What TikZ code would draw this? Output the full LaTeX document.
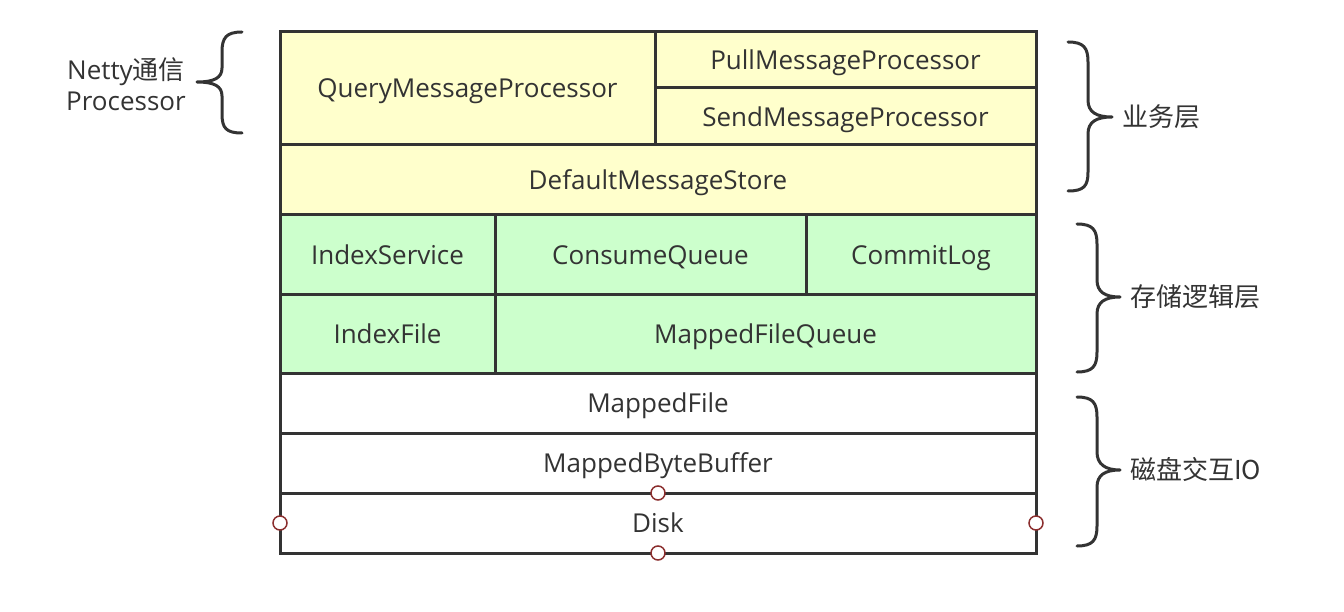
\documentclass[tikz,border=0pt]{standalone}
\usepackage{fontspec}
\setmainfont{Open Sans}
\newfontfamily\cjk{Noto Sans CJK SC}
\definecolor{ln}{HTML}{333333}
\definecolor{yel}{HTML}{FFFFCC}
\definecolor{grn}{HTML}{CCFFCC}
\definecolor{pin}{HTML}{8B2E2E}
\begin{document}
\begin{tikzpicture}[x=1pt,y=-1pt,
  cell/.style={draw=ln,line width=3pt,inner sep=0pt,outer sep=0pt,text=ln,
    text depth=0pt,font=\fontsize{26}{30}\selectfont},
  ycell/.style={cell,fill=yel},
  gcell/.style={cell,fill=grn},
  wcell/.style={cell,fill=white},
  brace/.style={draw=ln,line width=3pt,line cap=round,line join=round},
  side/.style={text=ln,font=\cjk\fontsize{26}{30}\selectfont,anchor=west,inner sep=0pt},
  pinc/.style={circle,draw=pin,fill=white,line width=1.5pt,minimum size=14pt,inner sep=0pt}]
\useasboundingbox (0,0) rectangle (1344,612);
% business layer
\node[ycell,minimum width=375,minimum height=113] (query) at (467.5,88.5) {QueryMessageProcessor};
\node[ycell,minimum width=381,minimum height=56] (pull) at (845.5,60) {PullMessageProcessor};
\node[ycell,minimum width=381,minimum height=57] (send) at (845.5,116.5) {SendMessageProcessor};
\node[ycell,minimum width=756,minimum height=70] (store) at (658,180) {DefaultMessageStore};
% storage logic layer
\node[gcell,minimum width=215,minimum height=80] (isvc) at (387.5,255) {IndexService};
\node[gcell,minimum width=311,minimum height=80] (cq) at (650.5,255) {ConsumeQueue};
\node[gcell,minimum width=230,minimum height=80] (cl) at (921,255) {CommitLog};
\node[gcell,minimum width=215,minimum height=78] (ifile) at (387.5,334) {IndexFile};
\node[gcell,minimum width=541,minimum height=78] (mfq) at (765.5,334) {MappedFileQueue};
% disk IO layer
\node[wcell,minimum width=756,minimum height=60] (mf) at (658,403) {MappedFile};
\node[wcell,minimum width=756,minimum height=60] (mbb) at (658,463) {MappedByteBuffer};
\node[wcell,minimum width=756,minimum height=60] (disk) at (658,523) {Disk};
% pins
\node[pinc] (p1) at (disk.north) {};
\node[pinc] (p2) at (disk.south) {};
\node[pinc] (p3) at (disk.west) {};
\node[pinc] (p4) at (disk.east) {};
% left brace
\draw[brace] (242,32) .. controls (226,32) and (222,38) .. (222,52) -- (222,68)
  .. controls (222,78) and (214,82) .. (197,82)
  .. controls (214,82) and (222,86) .. (222,96) -- (222,114)
  .. controls (222,128) and (226,133) .. (242,133);
\node[text=ln,align=center,inner sep=0pt,font=\fontsize{26}{31}\selectfont] (netty) at (126,84) {Netty{\cjk 通信}\\Processor};
% right braces
\draw[brace] (1068,42) .. controls (1084,42) and (1088,48) .. (1088,62) -- (1088,100)
  .. controls (1088,112) and (1096,117) .. (1112,117)
  .. controls (1096,117) and (1088,122) .. (1088,134) -- (1088,172)
  .. controls (1088,186) and (1084,191) .. (1068,191);
\node[side] (l1) at (1122,117) {业务层};
\draw[brace] (1077,224) .. controls (1093,224) and (1097,230) .. (1097,244) -- (1097,280)
  .. controls (1097,292) and (1105,297) .. (1120,297)
  .. controls (1105,297) and (1097,302) .. (1097,314) -- (1097,352)
  .. controls (1097,366) and (1093,372) .. (1077,372);
\node[side] (l2) at (1130,297) {存储逻辑层};
\draw[brace] (1077,397) .. controls (1093,397) and (1097,403) .. (1097,417) -- (1097,452)
  .. controls (1097,464) and (1105,470) .. (1120,470)
  .. controls (1105,470) and (1097,475) .. (1097,487) -- (1097,526)
  .. controls (1097,540) and (1093,546) .. (1077,546);
\node[side] (l3) at (1130,470) {磁盘交互IO};
\end{tikzpicture}
\end{document}
